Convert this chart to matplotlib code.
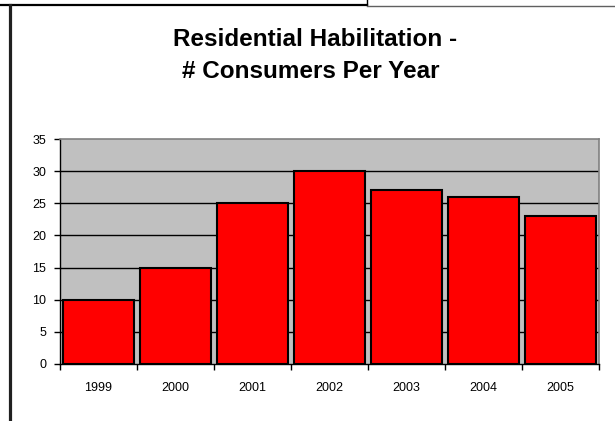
import matplotlib
matplotlib.use('Agg')
import matplotlib.pyplot as plt
from matplotlib.lines import Line2D
import numpy as np

years = ['1999', '2000', '2001', '2002', '2003', '2004', '2005']
consumers = [10, 15, 25, 30, 27, 26, 23]
yticks = [0, 5, 10, 15, 20, 25, 30, 35]

W, H = 615, 421
plt.rcParams['font.family'] = ['Liberation Sans', 'DejaVu Sans']

fig = plt.figure(figsize=(W / 100, H / 100), dpi=100)
ax = fig.add_axes([60 / W, 1 - 364 / H, (599 - 60) / W, (364 - 139) / H])
ax.set_facecolor('#c0c0c0')

x = np.arange(len(years))
ax.bar(x, consumers, width=0.91, color='#ff0000', edgecolor='black', linewidth=1.5, zorder=3)

ax.set_xlim(-0.5, len(years) - 0.5)
ax.set_ylim(0, 35)
ax.set_yticks(yticks)
ax.set_yticklabels([str(v) for v in yticks], fontsize=9)
for v in yticks[1:-1]:
    ax.axhline(v, color='black', linewidth=1, zorder=1)

# ticks at category borders, labels at the centres
ax.set_xticks(np.arange(len(years) + 1) - 0.5)
ax.set_xticklabels([])
ax.set_xticks(x, minor=True)
ax.set_xticklabels(years, minor=True, fontsize=9)
ax.tick_params(axis='x', which='minor', length=0, pad=13)
ax.tick_params(axis='x', which='major', length=4, width=1, color='black')
ax.tick_params(axis='y', length=4, width=1, pad=6)

for s in ['top', 'right']:
    ax.spines[s].set_color('#808080')
    ax.spines[s].set_linewidth(1.2)
for s in ['left', 'bottom']:
    ax.spines[s].set_color('black')
    ax.spines[s].set_linewidth(1)

fig.text(315 / W, 1 - 46 / H, 'Residential Habilitation -', ha='center', va='baseline',
         fontsize=17.5, fontweight='bold')
fig.text(311 / W, 1 - 78 / H, '# Consumers Per Year', ha='center', va='baseline',
         fontsize=17.5, fontweight='bold')

# frame fragments around the chart
def px_line(xs, ys, **kw):
    fig.add_artist(Line2D([v / W for v in xs], [1 - v / H for v in ys],
                          transform=fig.transFigure, **kw))

px_line([0, 367], [4.5, 4.5], color='black', linewidth=1.6)
px_line([367, 367], [0, 4.5], color='black', linewidth=1)
px_line([367, 615], [5.5, 5.5], color='#606060', linewidth=1)
px_line([9.5, 9.5], [5, 421], color='#202020', linewidth=2.3)

fig.savefig('out.png', dpi=100)
